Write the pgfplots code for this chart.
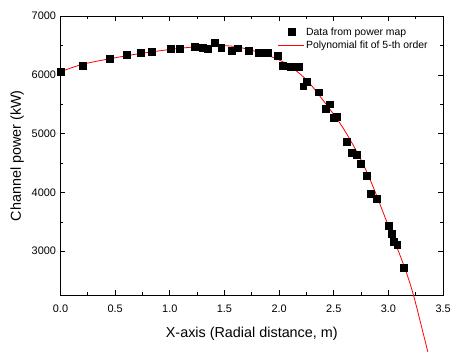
\documentclass[border=0pt]{standalone}
\usepackage{pgfplots}
\pgfplotsset{compat=1.18}
\usepackage{fontspec}
\setmainfont{Liberation Sans}
\pgfplotsset{
  sqlegend/.style={legend image code/.code={\draw[##1] plot coordinates {(13pt,0pt)};}},
  lnlegend/.style={legend image code/.code={\draw[red, line width=0.8pt] (0pt,0pt) -- (26pt,0pt);}},
}
\begin{document}
\begin{tikzpicture}[x=1pt,y=1pt]
\begin{axis}[
  at={(0,0)}, anchor=south west,
  scale only axis, width=385.7pt, height=281.4pt,
  xmin=0, xmax=3.5, ymin=2250, ymax=7000,
  xtick={0,0.5,...,3.5}, ytick={3000,4000,5000,6000,7000},
  minor x tick num=1, minor y tick num=1,
  tick align=inside, major tick length=5pt, minor tick length=3pt,
  xticklabel style={/pgf/number format/fixed, /pgf/number format/fixed zerofill, /pgf/number format/precision=1, yshift=-6pt},
  yticklabel style={/pgf/number format/1000 sep={}, xshift=-1pt},
  /pgf/number format/assume math mode=true,
  tick label style={font=\fontsize{11}{13}\selectfont},
  label style={font=\fontsize{14.5}{16}\selectfont},
  xlabel={X-axis (Radial distance, m)},
  ylabel={Channel power (kW)},
  xlabel style={yshift=-8pt},
  ylabel style={yshift=1pt},
  clip=false,
  axis line style={line width=0.8pt},
  tick style={line width=0.7pt, black},
  legend style={draw=none, fill=none, at={(0.568,0.965)}, anchor=north west,
    font=\fontsize{10.5}{12}\selectfont, row sep=1pt, inner sep=0pt,
    nodes={inner sep=1.5pt}},
  legend cell align=left,
]
\addplot[only marks, mark=square*, mark size=3.5pt, black, sqlegend]
  table {
x y
0.00 6055
0.20 6162
0.45 6275
0.605 6342
0.73 6386
0.83 6403
1.01 6449
1.09 6449
1.23 6474
1.30 6458
1.35 6443
1.41 6542
1.47 6457
1.57 6418
1.62 6455
1.72 6406
1.81 6373
1.86 6380
1.90 6386
1.99 6325
2.03 6160
2.11 6134
2.15 6148
2.18 6145
2.22 5808
2.25 5884
2.36 5706
2.43 5426
2.46 5502
2.50 5270
2.53 5285
2.62 4858
2.66 4680
2.71 4638
2.75 4490
2.80 4285
2.835 3981
2.89 3890
3.00 3430
3.03 3300
3.05 3160
3.08 3105
3.14 2722
};
\addlegendentry{Data from power map}
\addplot[red, line width=0.8pt, smooth, lnlegend]
  table {
x y
0.00 6055
0.20 6180
0.45 6275
0.73 6364
1.10 6455
1.41 6497
1.59 6485
1.78 6403
1.99 6263
2.11 6135
2.26 5897
2.44 5476
2.59 5083
2.74 4590
2.85 4140
2.985 3500
3.137 2778
3.23 2245
3.36 1288
};
\addlegendentry{Polynomial fit of 5-th order}
\end{axis}
\useasboundingbox (-61,-58.3) rectangle (393,297.7);
\end{tikzpicture}
\end{document}
